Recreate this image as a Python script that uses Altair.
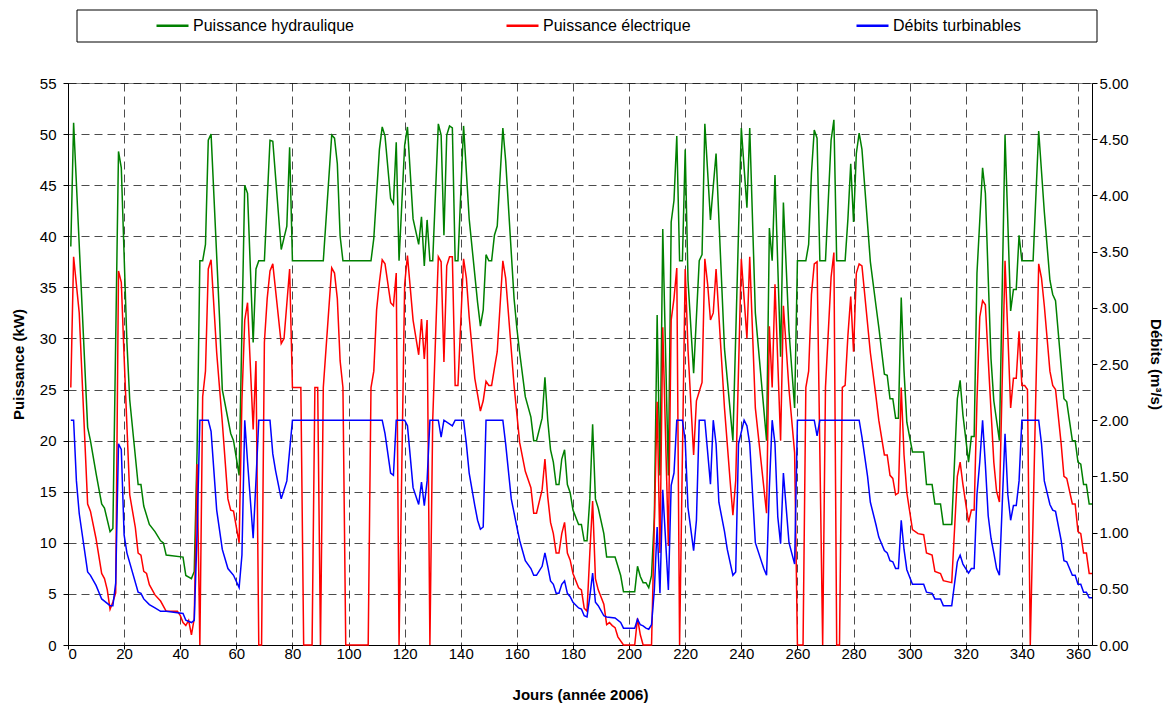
import altair as alt
import pandas as pd

# ---------------- data ----------------
hyd_days = [1, 2, 7, 8, 10, 12, 13, 15, 16, 18, 19, 21, 22, 25, 26, 27, 29, 31, 33, 34, 35,
            41, 42, 44, 45, 46, 47, 48, 49, 50, 51, 54, 55, 58, 59, 61, 62, 63, 64, 66, 67, 68, 70,
            72, 73, 76, 78, 79, 80, 91, 94, 95, 96, 97, 98, 108, 109, 111, 112, 113, 115, 116,
            117, 118, 120, 121, 123, 125, 126, 127, 128, 129, 130, 132, 133, 134, 135, 136, 137,
            138, 139, 141, 143, 146, 147, 148, 149, 150, 151, 152, 153, 155, 156, 159, 160, 161,
            163, 165, 166, 167, 169, 170, 171, 172, 173, 174, 175, 176, 177, 178, 179, 180, 182,
            183, 184, 185, 186, 187, 188, 189, 191, 192, 195, 197, 198, 202, 203, 204, 205, 206,
            207, 208, 209, 210, 211, 212, 214, 215, 216, 217, 218, 219, 220, 221, 223, 225, 226,
            227, 229, 230, 231, 234, 237, 240, 242, 243, 245, 249, 250, 251, 252, 254, 255, 257,
            259, 260, 263, 264, 265, 266, 267, 268, 270, 272, 273, 274, 277, 278, 279, 280, 281,
            282, 283, 286, 288, 289, 291, 292, 293, 294, 295, 296, 297, 298, 299, 301, 305, 306,
            308, 309, 311, 312, 315, 317, 318, 319, 321, 322, 323, 324, 326, 327, 328, 329, 330,
            332, 334, 336, 337, 338, 339, 340, 344, 346, 348, 350, 351, 352, 355, 356, 358, 359,
            360, 361, 362, 363, 364, 365]
hyd_vals = [39.0, 51.1, 21.3, 20.0, 16.8, 13.8, 13.4, 11.1, 11.4, 48.3, 46.7, 29.6, 24.0, 15.7, 15.7, 13.6, 11.8, 11.1, 10.2, 10.0, 8.8,
            8.6, 6.8, 6.5, 7.2, 18.9, 37.6, 37.6, 39.2, 49.4, 50.0, 32.1, 25.0, 20.7, 20.0, 16.6, 31.0, 45.0, 44.2, 29.6, 36.8, 37.6, 37.6,
            49.4, 49.3, 38.7, 41.0, 48.7, 37.6, 37.6, 49.9, 49.6, 47.1, 40.0, 37.6, 37.6, 39.8, 48.5, 50.7, 49.8, 43.7, 43.2,
            49.2, 37.6, 48.9, 50.7, 41.7, 39.2, 41.9, 37.1, 41.6, 37.6, 37.6, 51.0, 49.9, 40.1, 49.9, 50.8, 50.6,
            37.6, 37.6, 50.8, 41.7, 33.5, 31.2, 32.8, 38.2, 37.6, 37.6, 40.1, 41.0, 50.6, 47.4, 33.9, 31.0, 28.6,
            24.3, 22.3, 20.0, 20.0, 22.2, 26.2, 22.0, 19.1, 17.9, 15.7, 15.7, 18.2, 19.1, 15.7, 14.9, 13.2, 11.8,
            11.8, 10.2, 10.2, 14.3, 21.6, 14.3, 13.4, 10.9, 8.6, 8.6, 6.8, 5.2, 5.2, 7.7, 6.7, 6.1, 6.1,
            5.6, 6.8, 12.5, 32.3, 16.6, 40.7, 16.6, 41.4, 43.5, 49.8, 37.6, 37.6, 48.5, 35.7, 26.6, 37.6, 38.2,
            51.0, 41.6, 44.9, 48.1, 29.0, 20.0, 50.6, 42.8, 50.6, 32.5, 20.0, 40.8, 37.6, 46.0, 28.2, 43.3, 30.7,
            23.2, 37.6, 37.6, 39.2, 46.2, 50.4, 49.6, 37.6, 37.6, 49.4, 51.4, 37.6, 37.6, 41.7, 47.1, 41.4, 48.1,
            50.1, 48.5, 37.5, 33.2, 31.1, 26.5, 26.4, 24.1, 24.1, 22.2, 22.2, 34.0, 26.8, 21.8, 18.9, 18.9, 15.7,
            15.7, 13.8, 13.8, 11.8, 11.8, 24.1, 25.9, 22.5, 17.9, 20.4, 20.4, 36.4, 46.7, 44.2, 36.0, 28.0, 23.9,
            20.0, 49.9, 32.7, 34.8, 34.8, 40.1, 37.6, 37.6, 50.3, 42.4, 35.7, 34.3, 33.7, 24.1, 23.8, 20.0, 20.0,
            17.9, 17.7, 15.7, 15.7, 13.8, 13.8]

elec_days = [1, 2, 4, 7, 8, 10, 12, 13, 14, 15, 16, 17, 18, 19, 20, 22, 24, 25, 26, 27, 28, 29, 31, 33,
             35, 39, 40, 41, 42, 43, 44, 45, 46, 47, 48, 49, 50, 51, 53, 55, 57, 58, 59, 61, 62, 63, 64,
             66, 67, 68, 69, 70, 71, 72, 73, 76, 77, 79, 80, 83, 84, 87, 88, 89, 90, 91, 94, 95, 96, 97,
             98, 99, 107, 108, 109, 110, 111, 112, 113, 115, 116, 117, 118, 120, 121, 123, 125, 126, 127,
             128, 129, 130, 131, 132, 133, 134, 135, 136, 137, 138, 139, 141, 142, 143, 145, 147, 148,
             149, 150, 151, 152, 153, 155, 156, 159, 161, 163, 165, 166, 167, 169, 170, 171, 172, 173,
             174, 175, 176, 177, 178, 179, 180, 182, 183, 184, 185, 186, 187, 188, 189, 191, 192, 193,
             194, 195, 196, 198, 202, 203, 204, 205, 208, 210, 211, 212, 214, 215, 216, 217, 218, 220,
             221, 223, 224, 225, 226, 227, 228, 229, 230, 231, 234, 236, 237, 238, 240, 242, 243, 245,
             249, 250, 251, 252, 254, 255, 257, 259, 260, 262, 263, 264, 265, 266, 267, 269, 270, 272,
             273, 274, 275, 276, 277, 278, 279, 280, 281, 282, 283, 286, 288, 289, 291, 292, 293, 294,
             295, 296, 297, 298, 299, 301, 303, 305, 306, 308, 309, 311, 312, 315, 317, 318, 319, 321,
             322, 323, 324, 325, 326, 327, 328, 330, 331, 332, 334, 336, 337, 338, 339, 340, 341, 342,
             343, 346, 347, 348, 350, 351, 352, 354, 355, 356, 358, 359, 360, 361, 362, 363, 364, 365]
elec_vals = [25.2, 38.0, 32.5, 13.8, 13.1, 10.4, 7.0, 6.5, 5.4, 3.5, 4.2, 5.1, 36.6, 35.5, 28.2, 14.7, 11.5, 9.0, 8.8, 7.2, 7.0, 5.9, 4.9, 4.3,
             3.3, 3.3, 2.9, 2.2, 1.9, 2.4, 1.0, 2.6, 17.7, 0.0, 24.3, 26.8, 36.8, 37.7, 28.6, 21.8, 14.3, 13.2, 13.1, 10.0, 24.0, 31.8, 33.5,
             21.1, 27.8, 0.0, 0.0, 29.6, 33.9, 36.6, 37.3, 29.5, 30.0, 36.8, 25.2, 25.2, 0.0, 0.0, 25.2, 25.2, 0.0, 25.2, 36.9, 36.4, 33.9, 27.8,
             25.2, 0.0, 0.0, 25.2, 26.8, 32.8, 35.5, 37.7, 37.3, 33.5, 33.2, 36.4, 0.0, 35.3, 38.1, 31.8, 28.4, 31.9, 28.0,
             31.8, 0.0, 22.0, 30.0, 38.0, 37.5, 27.7, 37.1, 38.0, 38.0, 25.4, 25.4, 37.8, 35.9, 32.1, 26.1, 22.9, 23.9,
             25.8, 25.4, 25.4, 27.1, 28.7, 37.6, 35.9, 25.4, 19.8, 17.0, 15.4, 12.9, 12.9, 15.2, 18.2, 14.5, 12.0, 10.9,
             9.0, 9.0, 10.9, 12.0, 9.0, 8.3, 7.0, 5.6, 5.4, 3.6, 3.3, 9.0, 14.1, 6.5, 5.4, 4.0, 2.0, 2.2,
             1.9, 1.7, 0.8, 0.0, 0.0, 2.6, 1.0, 0.0, 0.0, 23.8, 9.0, 31.1, 9.7, 31.8, 33.9, 36.9, 0.0, 36.8,
             28.9, 18.6, 23.9, 24.8, 25.7, 37.8, 35.3, 31.8, 32.5, 36.8, 23.2, 16.1, 12.7, 16.1, 37.8, 30.0, 38.0, 23.2,
             12.9, 31.2, 25.2, 35.3, 20.0, 33.2, 25.0, 18.8, 0.0, 0.0, 25.2, 26.8, 34.3, 37.3, 37.5, 0.0, 25.2, 36.0,
             38.4, 0.0, 0.0, 25.2, 25.4, 30.3, 34.1, 28.7, 36.4, 37.3, 37.1, 28.6, 24.3, 22.0, 18.6, 18.6, 16.6, 16.3,
             14.7, 14.9, 25.2, 18.6, 14.9, 11.3, 10.9, 10.8, 9.0, 8.8, 7.2, 7.0, 6.3, 6.1, 16.5, 17.9, 15.7, 12.0,
             13.2, 13.2, 23.9, 32.1, 33.7, 33.3, 28.0, 17.9, 15.0, 14.0, 37.6, 23.2, 26.1, 26.1, 30.7, 25.4, 25.4, 25.0,
             0.0, 37.3, 35.9, 33.2, 26.8, 25.4, 25.0, 19.7, 16.5, 16.3, 13.8, 13.8, 11.1, 10.9, 9.0, 9.0, 7.0, 7.0]

deb_days = [1, 2, 3, 4, 7, 8, 10, 12, 13, 15, 16, 17, 18, 19, 20, 21, 25, 26, 27, 29, 31, 33, 35,
            41, 42, 44, 45, 46, 47, 50, 51, 53, 55, 57, 59, 61, 62, 63, 64, 66, 67, 68, 72, 73, 74, 76,
            78, 80, 112, 113, 115, 116, 117, 120, 121, 123, 125, 126, 127, 128, 129, 132, 133, 134,
            137, 138, 141, 142, 143, 145, 146, 147, 148, 149, 155, 156, 158, 160, 161, 163, 165, 166,
            167, 169, 170, 171, 172, 173, 174, 175, 176, 177, 178, 179, 180, 182, 183, 184, 185, 186,
            187, 188, 189, 191, 192, 195, 197, 198, 202, 203, 204, 205, 206, 207, 208, 209, 210, 211,
            212, 214, 215, 216, 217, 219, 220, 221, 223, 224, 225, 227, 229, 230, 231, 232, 234, 235,
            237, 238, 239, 241, 242, 243, 245, 248, 249, 250, 251, 252, 253, 254, 255, 257, 259, 260,
            266, 267, 268, 282, 283, 285, 286, 288, 289, 291, 292, 293, 294, 295, 296, 297, 298, 299,
            301, 305, 306, 308, 309, 311, 312, 315, 317, 318, 319, 321, 322, 323, 324, 325, 326, 327,
            328, 329, 330, 331, 332, 334, 335, 336, 337, 338, 339, 340, 346, 347, 348, 350, 351, 352,
            354, 355, 356, 358, 359, 360, 361, 362, 363, 364, 365]
deb_vals = [2.00, 2.00, 1.46, 1.17, 0.65, 0.62, 0.53, 0.41, 0.39, 0.35, 0.35, 0.55, 1.79, 1.74, 0.98, 0.82, 0.47, 0.46, 0.41, 0.36, 0.33, 0.30, 0.30,
            0.28, 0.22, 0.20, 0.22, 0.98, 2.00, 2.00, 1.90, 1.20, 0.85, 0.68, 0.62, 0.51, 0.80, 2.00, 1.63, 0.95, 1.46, 2.00, 2.00, 1.70, 1.55, 1.30,
            1.46, 2.00, 2.00, 1.88, 1.53, 1.51, 2.00, 2.00, 1.95, 1.40, 1.25, 1.45, 1.24, 1.46, 2.00, 2.00, 1.85, 2.00,
            1.95, 2.00, 2.00, 1.79, 1.53, 1.24, 1.11, 1.03, 1.05, 2.00, 2.00, 1.79, 1.30, 1.05, 0.93, 0.75, 0.68, 0.62,
            0.62, 0.70, 0.82, 0.70, 0.57, 0.54, 0.46, 0.46, 0.54, 0.57, 0.46, 0.43, 0.38, 0.33, 0.32, 0.26, 0.25, 0.43,
            0.64, 0.38, 0.35, 0.26, 0.25, 0.24, 0.20, 0.15, 0.15, 0.23, 0.18, 0.17, 0.15, 0.14, 0.18, 0.49, 1.05, 0.46,
            1.38, 0.49, 1.42, 1.53, 2.00, 2.00, 1.82, 1.22, 0.84, 1.11, 2.00, 2.00, 1.43, 2.00, 1.79, 1.27, 1.01, 0.85,
            0.62, 0.65, 1.79, 2.00, 1.95, 1.79, 0.91, 0.68, 0.62, 1.40, 2.00, 1.79, 1.14, 0.90, 1.53, 0.91, 0.72, 2.00,
            2.00, 1.86, 2.00, 2.00, 1.85, 1.50, 1.27, 1.07, 0.96, 0.84, 0.82, 0.75, 0.74, 0.68, 0.68, 1.11, 0.85, 0.67,
            0.54, 0.54, 0.47, 0.46, 0.41, 0.41, 0.35, 0.35, 0.74, 0.80, 0.72, 0.64, 0.68, 0.68, 1.34, 1.63, 2.00, 1.60,
            1.15, 0.95, 0.82, 0.68, 0.62, 1.88, 1.34, 1.11, 1.24, 1.24, 1.46, 2.00, 2.00, 1.79, 1.46, 1.25, 1.20, 1.19,
            0.93, 0.75, 0.74, 0.62, 0.62, 0.54, 0.54, 0.47, 0.47, 0.42, 0.42]

series_names = ["Puissance hydraulique", "Puissance électrique", "Débits turbinables"]
series_colors = ["#008000", "#ff0000", "#0000ff"]
x_ticks = list(range(0, 361, 20))
left_ticks = list(range(0, 56, 5))
right_ticks = [i * 0.5 for i in range(11)]

# ---------------- tables ----------------
power = pd.concat([
    pd.DataFrame({"jour": hyd_days, "val": hyd_vals, "serie": series_names[0]}),
    pd.DataFrame({"jour": elec_days, "val": elec_vals, "serie": series_names[1]}),
], ignore_index=True)
flow = pd.DataFrame({"jour": deb_days, "val": deb_vals, "serie": series_names[2]})

FONT = "Liberation Sans"
FS = 15

color_scale = alt.Scale(domain=series_names, range=series_colors)
legend = alt.Legend(
    title=None, orient="none", legendX=87, legendY=-75, direction="horizontal",
    symbolType="stroke", symbolSize=1024, symbolStrokeWidth=2.5,
    labelFont=FONT, labelFontSize=16, labelColor="black", labelOffset=3,
    columnPadding=147, gridAlign="all", padding=0, labelLimit=400,
)

x_enc = alt.X(
    "jour:Q",
    scale=alt.Scale(domain=[0, 365], nice=False, zero=False),
    axis=alt.Axis(values=x_ticks, title="Jours (année 2006)", grid=True,
                  titlePadding=26, labelPadding=-3, tickSize=4),
)

power_chart = alt.Chart(power).mark_line(strokeWidth=1.5).encode(
    x=x_enc,
    y=alt.Y("val:Q", scale=alt.Scale(domain=[0, 55], nice=False),
            axis=alt.Axis(values=left_ticks, title="Puissance (kW)", grid=True,
                          orient="left", titlePadding=13, labelPadding=7, tickSize=5)),
    color=alt.Color("serie:N", scale=color_scale, legend=legend),
)

flow_chart = alt.Chart(flow).mark_line(strokeWidth=1.5).encode(
    x=x_enc,
    y=alt.Y("val:Q", scale=alt.Scale(domain=[0, 5], nice=False),
            axis=alt.Axis(values=right_ticks, format=".2f", title="Débits (m³/s)",
                          grid=False, orient="right", titlePadding=19, tickSize=5)),
    color=alt.Color("serie:N", scale=color_scale, legend=legend),
)

box = alt.Chart(pd.DataFrame({"k": [0]})).mark_rect(
    fill="white", stroke="black", strokeWidth=1
).encode(x=alt.value(9), x2=alt.value(1029), y=alt.value(-73), y2=alt.value(-41))

chart = alt.layer(box, power_chart, flow_chart).resolve_scale(
    y="independent"
).properties(
    width=1024, height=562,
    autosize=alt.AutoSizeParams(type="none"),
    padding={"left": 68, "top": 83, "right": 73, "bottom": 61},
    background="white",
).configure_view(
    stroke="#808080", strokeWidth=1
).configure_axis(
    labelFont=FONT, titleFont=FONT, labelFontSize=FS, titleFontSize=FS,
    titleFontWeight="bold", labelColor="black", titleColor="black",
    domainColor="black", domainWidth=1, tickColor="black",
    gridColor="#000000", gridDash=[8, 5], gridOpacity=0.7, gridWidth=1,
)

chart.save("out.html", embed_options={"renderer": "svg", "actions": False})
